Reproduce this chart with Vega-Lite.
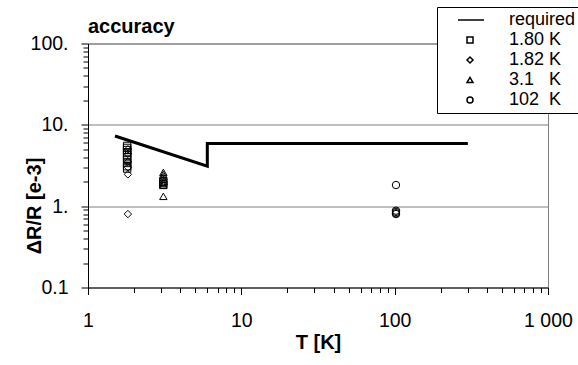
{
  "$schema": "https://vega.github.io/schema/vega-lite/v6.json",
  "width": 460,
  "height": 244,
  "autosize": {"type": "none"},
  "padding": {"left": 88, "top": 43.5, "right": 30, "bottom": 77.5},
  "background": "white",
  "title": {"text": "accuracy", "anchor": "start", "frame": "group", "fontSize": 20, "fontWeight": "bold", "font": "Liberation Sans", "color": "black", "baseline": "alphabetic", "offset": 10, "dy": 56},
  "config": {"view": {"stroke": "#808080", "strokeWidth": 1}, "font": "Liberation Sans"},
  "datasets": {
    "req": [
      {"T": 1.5, "v": 7.3, "i": 1},
      {"T": 6, "v": 3.1, "i": 2},
      {"T": 6, "v": 5.9, "i": 3},
      {"T": 300, "v": 5.9, "i": 4}
    ],
    "meas": [
      {"T": 1.8, "v": 5.5, "s": "1.80 K"},
      {"T": 1.8, "v": 5.2, "s": "1.80 K"},
      {"T": 1.8, "v": 4.9, "s": "1.80 K"},
      {"T": 1.8, "v": 4.6, "s": "1.80 K"},
      {"T": 1.8, "v": 4.3, "s": "1.80 K"},
      {"T": 1.8, "v": 4.0, "s": "1.80 K"},
      {"T": 1.8, "v": 3.7, "s": "1.80 K"},
      {"T": 1.8, "v": 3.4, "s": "1.80 K"},
      {"T": 1.8, "v": 3.1, "s": "1.80 K"},
      {"T": 1.8, "v": 2.9, "s": "1.80 K"},
      {"T": 3.1, "v": 1.85, "s": "1.80 K"},
      {"T": 3.1, "v": 2.0, "s": "1.80 K"},
      {"T": 1.82, "v": 2.46, "s": "1.82 K"},
      {"T": 1.82, "v": 0.8, "s": "1.82 K"},
      {"T": 1.82, "v": 3.0, "s": "1.82 K"},
      {"T": 1.82, "v": 3.5, "s": "1.82 K"},
      {"T": 1.82, "v": 4.4, "s": "1.82 K"},
      {"T": 1.82, "v": 5.0, "s": "1.82 K"},
      {"T": 3.1, "v": 2.6, "s": "3.1 K"},
      {"T": 3.1, "v": 2.45, "s": "3.1 K"},
      {"T": 3.1, "v": 2.3, "s": "3.1 K"},
      {"T": 3.1, "v": 2.15, "s": "3.1 K"},
      {"T": 3.1, "v": 2.0, "s": "3.1 K"},
      {"T": 3.1, "v": 1.9, "s": "3.1 K"},
      {"T": 3.1, "v": 1.8, "s": "3.1 K"},
      {"T": 3.1, "v": 1.32, "s": "3.1 K"},
      {"T": 102, "v": 1.82, "s": "102 K"},
      {"T": 102, "v": 0.88, "s": "102 K"},
      {"T": 102, "v": 0.85, "s": "102 K"},
      {"T": 102, "v": 0.82, "s": "102 K"},
      {"T": 102, "v": 0.8, "s": "102 K"}
    ]
  },
  "encoding": {
    "x": {
      "field": "T", "type": "quantitative",
      "scale": {"type": "log", "domain": [1, 1000], "nice": false},
      "axis": {
        "title": "T [K]",
        "values": [1,2,3,4,5,6,7,8,9,10,20,30,40,50,60,70,80,90,100,200,300,400,500,600,700,800,900,1000],
        "labelExpr": "datum.value == 1 ? '1' : datum.value == 10 ? '10' : datum.value == 100 ? '100' : datum.value == 1000 ? '1\u00a0000' : ''",
        "grid": false,
        "tickSize": {"condition": {"test": "datum.value == 1 || datum.value == 10 || datum.value == 100 || datum.value == 1000", "value": 7}, "value": 5},
        "tickColor": "black", "domainColor": "black",
        "labelFont": "Liberation Sans", "labelFontSize": 19.5, "labelColor": "black",
        "labelPadding": 17, "labelOverlap": false, "labelFlush": false, "labelBound": false,
        "titleFont": "Liberation Sans", "titleFontSize": 20, "titleFontWeight": "bold", "titleColor": "black",
        "titleX": 230, "titleY": 55, "titleBaseline": "middle", "titleAlign": "center"
      }
    },
    "y": {
      "field": "v", "type": "quantitative",
      "scale": {"type": "log", "domain": [0.1, 100], "nice": false},
      "axis": {
        "title": "ΔR/R [e-3]",
        "values": [0.1,0.2,0.3,0.4,0.5,0.6,0.7,0.8,0.9,1,2,3,4,5,6,7,8,9,10,20,30,40,50,60,70,80,90,100],
        "labelExpr": "datum.value == 100 ? '100.' : datum.value == 10 ? '10.' : datum.value == 1 ? '1.' : datum.value == 0.1 ? '0.1' : ''",
        "grid": true, "gridWidth": 1,
        "gridColor": {"condition": {"test": "datum.value == 1 || datum.value == 10 || datum.value == 100", "value": "#808080"}, "value": "transparent"},
        "tickSize": {"condition": {"test": "datum.value == 0.1 || datum.value == 1 || datum.value == 10 || datum.value == 100", "value": 7}, "value": 5},
        "tickColor": "black", "domainColor": "black",
        "labelFont": "Liberation Sans", "labelFontSize": 19.5, "labelColor": "black",
        "labelPadding": 13, "labelOverlap": false, "labelFlush": false, "labelBound": false,
        "titleFont": "Liberation Sans", "titleFontSize": 20, "titleFontWeight": "bold", "titleColor": "black",
        "titleX": -54, "titleY": 162, "titleBaseline": "middle", "titleAlign": "center", "titleAngle": -90
      }
    }
  },
  "layer": [
    {
      "data": {"name": "req"},
      "mark": {"type": "line", "color": "black", "strokeWidth": 3, "strokeJoin": "miter", "clip": false},
      "encoding": {"order": {"field": "i", "type": "quantitative"}}
    },
    {
      "data": {"name": "meas"},
      "mark": {"type": "point", "filled": false, "color": "black", "strokeWidth": 1, "size": 55, "opacity": 1},
      "encoding": {
        "shape": {
          "field": "s", "type": "nominal",
          "scale": {"domain": ["required", "1.80 K", "1.82 K", "3.1 K", "102 K"], "range": ["M-4,0H4.667", "square", "diamond", "triangle-up", "circle"]},
          "legend": {
            "orient": "none", "legendX": 349, "legendY": -36.5, "title": null, "direction": "vertical",
            "strokeColor": "black", "fillColor": "white", "padding": 4, "rowPadding": 2,
            "symbolSize": 36, "symbolOffset": 20, "labelOffset": 30,
            "symbolStrokeColor": "black", "symbolFillColor": "transparent",
            "labelFont": "Liberation Sans", "labelFontSize": 18, "labelColor": "black",
            "labelExpr": "datum.value == '3.1 K' ? '3.1\u00a0\u00a0\u00a0K' : datum.value == '102 K' ? '102\u00a0\u00a0K' : datum.value == 'required' ? 'required\u00a0\u00a0\u00a0\u00a0' : datum.label",
            "encode": {"symbols": {"update": {"strokeWidth": {"signal": "datum.value == 'required' ? 3 : 1"}}}}
          }
        }
      }
    }
  ]
}
